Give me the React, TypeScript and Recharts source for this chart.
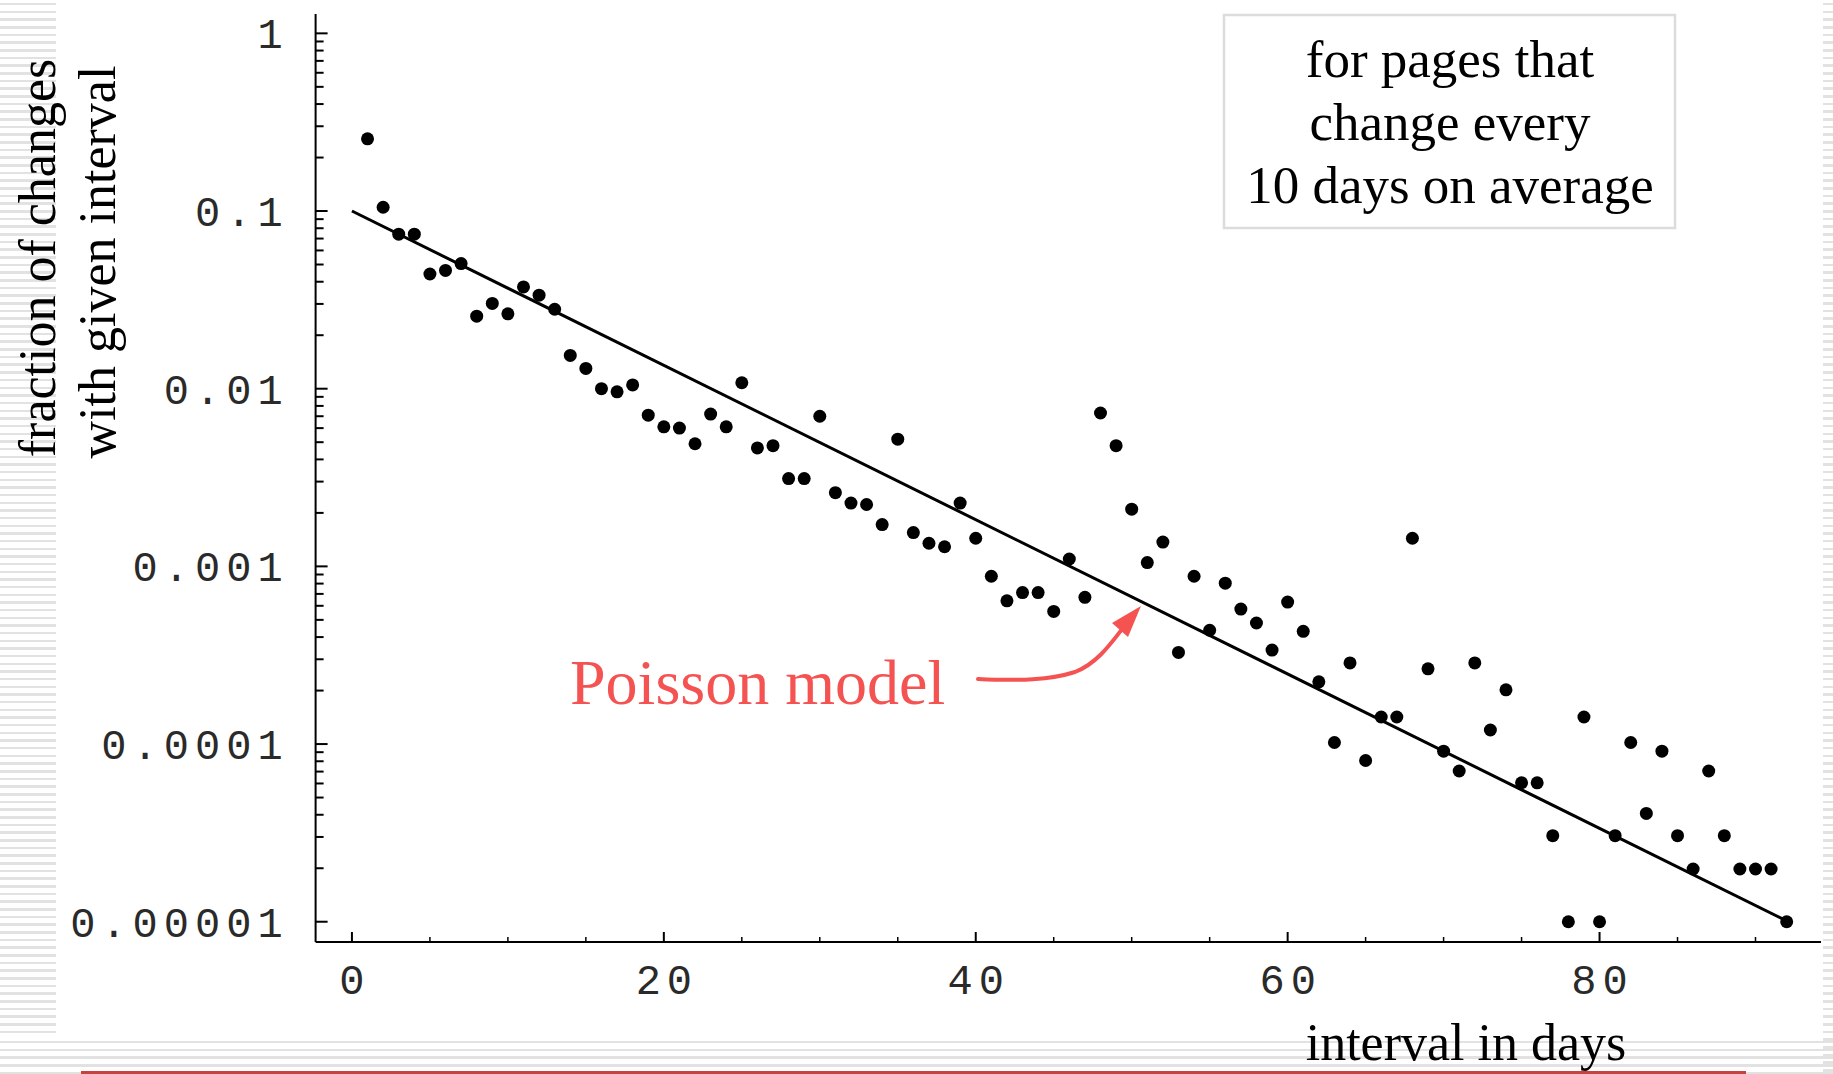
import React from 'react';
import { ComposedChart, Scatter, XAxis, YAxis } from 'recharts';

// ---- data ----
const days = [
  1, 2, 3, 4, 5, 6, 7, 8, 9, 10, 11, 12, 13, 14, 15, 16, 17, 18, 19, 20,
  21, 22, 23, 24, 25, 26, 27, 28, 29, 30, 31, 32, 33, 34, 35, 36, 37, 38, 39, 40,
  41, 42, 43, 44, 45, 46, 47, 48, 49, 50, 51, 52, 53, 54, 55, 56, 57, 58, 59, 60,
  61, 62, 63, 64, 65, 66, 67, 68, 69, 70, 71, 72, 73, 74, 75, 76, 77, 78, 79, 80,
  81, 82, 83, 84, 85, 86, 87, 88, 89, 90, 91, 92,
];
const fractions = [
  0.255, 0.105, 0.0741, 0.0741, 0.0442, 0.0463, 0.0506, 0.0256, 0.0302, 0.0264,
  0.0374, 0.0336, 0.028, 0.0154, 0.013, 0.01, 0.0096, 0.0105, 0.0071, 0.0061,
  0.006, 0.0049, 0.0072, 0.0061, 0.0108, 0.00464, 0.00478, 0.00312, 0.00312, 0.007,
  0.0026, 0.00227, 0.00223, 0.00172, 0.0052, 0.00155, 0.00135, 0.00129, 0.00227, 0.00144,
  0.00088, 0.00064, 0.000712, 0.000712, 0.000558, 0.0011, 0.00067, 0.0073, 0.00478, 0.0021,
  0.00105, 0.00137, 0.000328, 0.00088, 0.000437, 0.000804, 0.000575, 0.00048, 0.000338, 0.00063,
  0.000431, 0.000224, 0.000102, 0.000286, 0.0000808, 0.000142, 0.000142, 0.00144, 0.000265, 0.0000912,
  0.0000705, 0.000286, 0.00012, 0.000202, 0.0000605, 0.0000605, 0.0000305, 0.00001, 0.000142, 0.00001,
  0.0000305, 0.000102, 0.0000407, 0.0000912, 0.0000305, 0.0000198, 0.0000705, 0.0000305, 0.0000198, 0.0000198,
  0.0000198, 0.00001,
];
// Poisson model: straight line on the log axis between its two ends
const modelDays = [0, 92];
const modelFractions = [0.1, 0.0000101];

const xMajorTicks = [0, 20, 40, 60, 80];
const xMinorTicks = [5, 10, 15, 25, 30, 35, 45, 50, 55, 65, 70, 75, 85, 90];
const yMajorTicks = [0.00001, 0.0001, 0.001, 0.01, 0.1, 1];
const yMajorLabels = ['0.00001', '0.0001', '0.001', '0.01', '0.1', '1'];
const yMinorMultipliers = [2, 3, 4, 5, 6, 7, 8, 9];

const boxLines = ['for pages that', 'change every', '10 days on average'];
const yLabelLines = ['fraction of changes', 'with given interval'];
const xLabel = 'interval in days';
const modelLabel = 'Poisson model';

// ---- derived tables ----
const points = days.map((d, i) => ({ x: d, y: fractions[i] }));
const model = modelDays.map((d, i) => ({ x: d, y: modelFractions[i] }));
const yMinorTicks = yMajorTicks.slice(0, -1).flatMap((m) => yMinorMultipliers.map((k) => m * k));
const yTicks = [...yMajorTicks, ...yMinorTicks];
const xTicks = [...xMajorTicks, ...xMinorTicks];

const W = 1833;
const H = 1074;
const MONO = '"Liberation Mono", "DejaVu Sans Mono", monospace';
const SERIF = '"Liberation Serif", "DejaVu Serif", serif';
const TICK_FS = 42;
const TICK_LS = 6;
const TICK_FILL = '#2a2a2a';
const RED = '#f55252';

const YTick = (props: any) => {
  const { x, y, payload } = props;
  const v = payload.value;
  const idx = yMajorTicks.findIndex((m) => Math.abs(m - v) / m < 1e-6);
  if (idx >= 0) {
    return (
      <g>
        <line x1={x} x2={x + 12} y1={y} y2={y} stroke="#000" strokeWidth={2} />
        <text
          x={x - 27}
          y={y}
          dy="0.36em"
          textAnchor="end"
          fontFamily={MONO}
          fontSize={TICK_FS}
          letterSpacing={TICK_LS}
          fill={TICK_FILL}
        >
          {yMajorLabels[idx]}
        </text>
      </g>
    );
  }
  return <line x1={x} x2={x + 8} y1={y} y2={y} stroke="#000" strokeWidth={2} />;
};

const XTick = (props: any) => {
  const { x, y, payload } = props;
  const v = payload.value;
  if (xMajorTicks.includes(v)) {
    return (
      <g>
        <line x1={x} x2={x} y1={y} y2={y - 10} stroke="#000" strokeWidth={2} />
        <text
          x={x + TICK_LS / 2}
          y={y + 52}
          textAnchor="middle"
          fontFamily={MONO}
          fontSize={TICK_FS}
          letterSpacing={TICK_LS}
          fill={TICK_FILL}
        >
          {String(v)}
        </text>
      </g>
    );
  }
  return <line x1={x} x2={x} y1={y} y2={y - 5} stroke="#000" strokeWidth={1.5} />;
};

const stripe =
  'repeating-linear-gradient(to bottom, transparent 0px, transparent 3px, #e2e2e2 3px, #e2e2e2 5.5px, transparent 5.5px, transparent 7.67px)';

export default function App() {
  return (
    <div style={{ position: 'absolute', left: 0, top: 0, width: W, height: H, background: '#fff', overflow: 'hidden' }}>
      {/* slide decoration */}
      <div style={{ position: 'absolute', left: 0, top: 0, width: 56, height: 1035, background: stripe }} />
      <div style={{ position: 'absolute', left: 1823, top: 0, width: 10, height: H, background: stripe }} />
      <div style={{ position: 'absolute', left: 0, top: 1038, width: W, height: 36, background: stripe }} />
      <div style={{ position: 'absolute', left: 81, top: 1071, width: 1665, height: 2.5, background: '#c94040' }} />

      <div style={{ position: 'absolute', left: 0, top: 0 }}>
        <ComposedChart width={W} height={H} margin={{ top: 14, right: 12, bottom: 0, left: 0 }}>
          <XAxis
            dataKey="x"
            type="number"
            domain={[-2.33, 94.2]}
            allowDataOverflow
            ticks={xTicks}
            interval={0}
            tickSize={0}
            tickMargin={0}
            height={132}
            tick={<XTick />}
            axisLine={{ stroke: '#000', strokeWidth: 2 }}
            tickLine={false}
          />
          <YAxis
            dataKey="y"
            type="number"
            scale="log"
            domain={[0.00000769, 1.285]}
            allowDataOverflow
            ticks={yTicks}
            interval={0}
            tickSize={0}
            tickMargin={0}
            width={315.6}
            tick={<YTick />}
            axisLine={{ stroke: '#000', strokeWidth: 2 }}
            tickLine={false}
          />
          <Scatter
            data={model}
            isAnimationActive={false}
            line={{ stroke: '#000', strokeWidth: 3 }}
            shape={() => <g />}
          />
          <Scatter
            data={points}
            isAnimationActive={false}
            shape={(p: any) => <circle cx={p.cx} cy={p.cy} r={6.5} fill="#000" />}
          />
        </ComposedChart>
      </div>

      {/* annotations */}
      <svg width={W} height={H} style={{ position: 'absolute', left: 0, top: 0, pointerEvents: 'none' }}>
        <text transform="translate(55,258) rotate(-90)" textAnchor="middle" fontFamily={SERIF} fontSize={52} fill="#000">
          {yLabelLines[0]}
        </text>
        <text transform="translate(115,262) rotate(-90)" textAnchor="middle" fontFamily={SERIF} fontSize={52} fill="#000">
          {yLabelLines[1]}
        </text>

        <rect x={1224} y={15} width={451} height={213} fill="#fff" stroke="#dcdcdc" strokeWidth={2.5} />
        {boxLines.map((t, i) => (
          <text key={t} x={1450} y={77 + i * 63} textAnchor="middle" fontFamily={SERIF} fontSize={53} fill="#000">
            {t}
          </text>
        ))}

        <text x={570} y={704} fontFamily={SERIF} fontSize={64} fill={RED}>
          {modelLabel}
        </text>
        <path
          d="M 978 679 C 1020 681, 1050 680, 1075 672 C 1098 663, 1112 642, 1126 624"
          fill="none"
          stroke={RED}
          strokeWidth={4}
          strokeLinecap="round"
        />
        <path d="M 1141 606 L 1128 637 L 1112 623 Z" fill={RED} />

        <text x={1466} y={1060} textAnchor="middle" fontFamily={SERIF} fontSize={52} fill="#000">
          {xLabel}
        </text>
      </svg>
    </div>
  );
}
